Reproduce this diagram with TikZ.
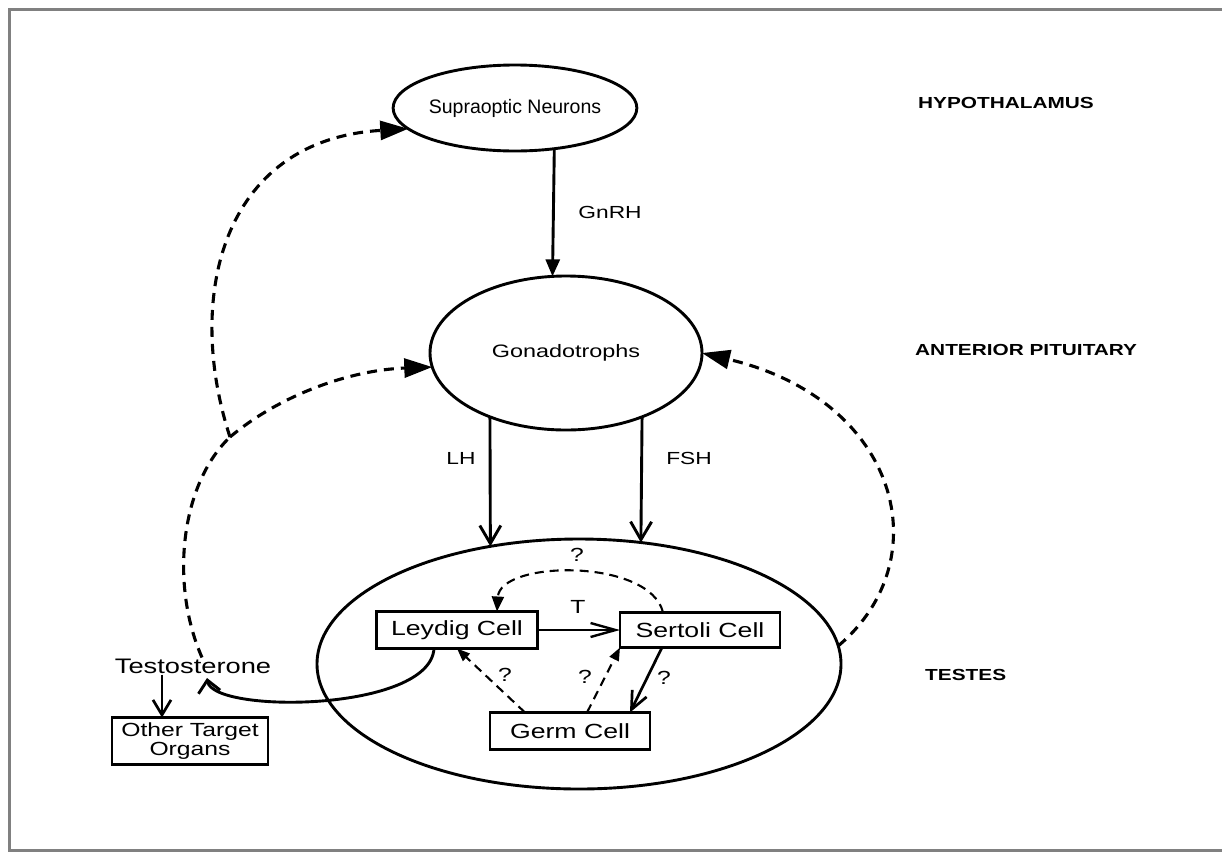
\documentclass[tikz,border=0pt]{standalone}
\usepackage{fontspec}
\setmainfont{Liberation Sans}
\newfontfamily\bildfont{Liberation Sans}[FakeStretch=1.3]
\usetikzlibrary{arrows.meta,shapes.geometric}

\begin{document}
\begin{tikzpicture}[x=1pt,y=-1pt,
    organ/.style={draw,ellipse,line width=2.9pt,inner sep=0pt,outer sep=0pt},
    zelle/.style={draw,line width=2.7pt,inner sep=0pt,outer sep=0pt,minimum height=37pt,
      font=\bildfont\fontsize{20.5}{22}\selectfont},
    beschr/.style={inner sep=1pt,font=\bildfont\fontsize{17.5}{19}\selectfont},
    frageq/.style={inner sep=1pt,font=\bildfont\fontsize{19}{20}\selectfont},
    titel/.style={anchor=west,inner sep=0pt,font=\bildfont\fontsize{16}{18}\selectfont\bfseries},
    hormon/.style={line width=2.9pt,-{Straight Barb[length=18pt,width=21pt]}},
    rueck/.style={line width=3.1pt,dash pattern=on 10pt off 7pt,-{Triangle[length=28pt,width=19pt]}},
    frage/.style={line width=2.1pt,dash pattern=on 9pt off 6pt,-{Triangle[length=13pt,width=10pt]}}]
  \useasboundingbox (0,0) rectangle (1222,852);
  % Rahmen
  \draw[gray,line width=3pt] (1222,9.5) -- (9.5,9.5) -- (9.5,850.5) -- (1222,850.5);
  % Hypothalamus
  \node[organ,minimum width=180pt,minimum height=86pt,font=\fontsize{19.5}{21}\selectfont] (supra) at (515,108) {Supraoptic Neurons};
  \node[titel] (hypo) at (918,103) {HYPOTHALAMUS};
  % Hypophyse
  \node[organ,minimum width=272pt,minimum height=154pt,font=\bildfont\fontsize{18}{20}\selectfont] (gonado) at (566,353) {Gonadotrophs};
  \node[titel] (hvl) at (915,350) {ANTERIOR PITUITARY};
  \draw[line width=2.9pt,-{Triangle[length=17pt,width=14pt]}] (supra.-46.7) -- (gonado.100.4);
  \node[beschr] (gnrh) at (610,212) {GnRH};
  % Hoden
  \node[organ,minimum width=524pt,minimum height=250pt] (testes) at (579,664) {};
  \node[titel] (hoden) at (925,675) {TESTES};
  \draw[hormon] (gonado.-140.5) -- (testes.127.5);
  \draw[hormon] (gonado.-40.6) -- (testes.63);
  \node[beschr] (lh) at (461,458) {LH};
  \node[beschr] (fsh) at (689,458) {FSH};
  % Zellen
  \node[zelle,minimum width=161pt] (leydig) at (457,630) {Leydig Cell};
  \node[zelle,minimum width=160pt,minimum height=35pt] (sertoli) at (700,630) {Sertoli Cell};
  \node[zelle,minimum width=160pt] (germ) at (570,731) {Germ Cell};
  \draw[line width=2.4pt,-{Straight Barb[length=25pt,width=14pt]}] (leydig.east) -- (sertoli.west);
  \node[frageq] (t) at (578,607) {T};
  \draw[frage,-{Triangle[length=15pt,width=12pt]}] ([xshift=-37pt]sertoli.north) .. controls (650,558) and (500,560) .. ([xshift=40pt]leydig.north);
  \node[frageq] (q1) at (577,555) {?};
  \draw[frage] ([xshift=-45pt]germ.north) -- (leydig.south);
  \node[frageq] (q2) at (505,675) {?};
  \draw[frage] ([xshift=17pt]germ.north) -- (sertoli.south west);
  \node[frageq] (q3) at (585,677) {?};
  \draw[line width=2.7pt,-{Straight Barb[length=18pt,width=16pt]}] ([xshift=-38pt]sertoli.south) -- ([xshift=60pt]germ.north);
  \node[frageq] (q4) at (664,678) {?};
  % Testosteron
  \node[beschr,font=\bildfont\fontsize{21}{22}\selectfont] (testo) at (193,666) {Testosterone};
  \node[zelle,minimum width=156pt,minimum height=47pt,align=center,font=\bildfont\fontsize{19}{19}\selectfont] (other) at (190,741) {Other Target\\Organs};
  \coordinate (ttip) at (207,678);
  \draw[line width=2.9pt,-{Straight Barb[length=12pt,width=22pt]}] ([xshift=-23pt]leydig.south) .. controls (430,712) and (213,714) .. (ttip);
  \draw[line width=2.7pt,-{Straight Barb[length=15pt,width=18pt]}] ([xshift=-31pt]testo.south) -- ([xshift=-31pt]testo.south |- other.north);
  % Rueckkopplung
  \coordinate (gabel) at (230,437);
  \draw[line width=3.1pt,dash pattern=on 10pt off 7pt] ([xshift=9pt]testo.north) .. controls (170,585) and (180,485) .. (gabel);
  \draw[rueck] (gabel) .. controls (185,300) and (220,140) .. (supra.191.3);
  \draw[rueck] (gabel) .. controls (280,395) and (350,370) .. (gonado.186.4);
  \draw[rueck] (testes.4) .. controls (940,560) and (900,400) .. (gonado.east);
\end{tikzpicture}
\end{document}
